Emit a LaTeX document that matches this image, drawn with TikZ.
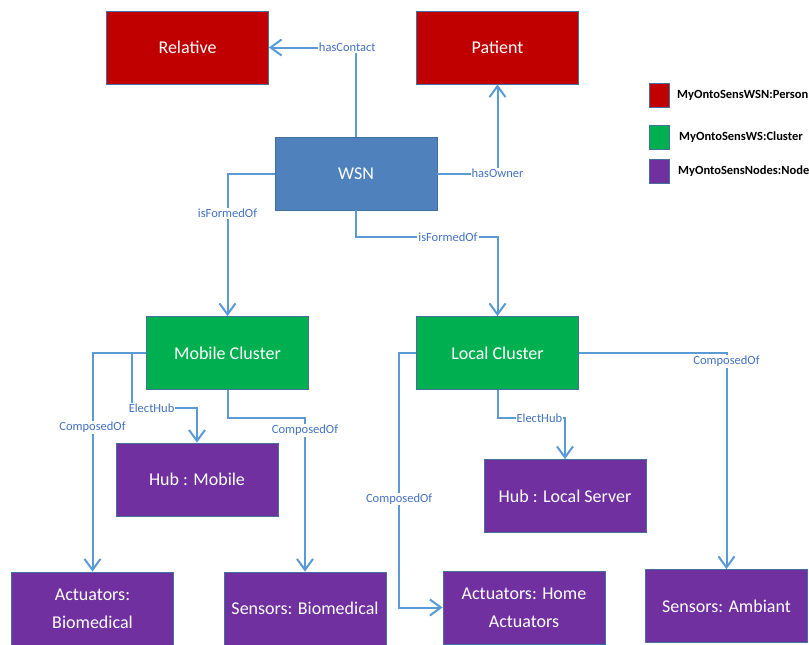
\documentclass[tikz,border=0pt]{standalone}
\usepackage{fontspec}
\setmainfont{Carlito}
\usetikzlibrary{arrows.meta}
\definecolor{lineblue}{RGB}{91,155,213}
\definecolor{labelblue}{RGB}{68,114,196}
\definecolor{pred}{RGB}{192,0,0}
\definecolor{wsnblue}{RGB}{79,129,189}
\definecolor{cgreen}{RGB}{0,176,80}
\definecolor{npurple}{RGB}{112,48,160}
\definecolor{edgeblue}{RGB}{65,113,156}
\begin{document}
\begin{tikzpicture}[x=1pt,y=-1pt,
 box/.style={draw=edgeblue, line width=0.8pt, text=white, font=\fontsize{18}{28}\selectfont, align=center, minimum width=162pt, minimum height=73pt, inner sep=2pt},
 conn/.style={draw=lineblue, line width=2pt, -{Straight Barb[length=11pt,width=16pt,line width=2pt]}},
 lbl/.style={fill=white, text=labelblue, font=\fontsize{12.5}{14}\selectfont, inner sep=1pt},
 leg/.style={draw=edgeblue, line width=0.8pt, minimum width=20pt, minimum height=24pt, inner sep=0pt},
 legtxt/.style={anchor=west, font=\bfseries\fontsize{12.5}{14}\selectfont, inner sep=0pt}]
\useasboundingbox[fill=white] (0,0) rectangle (809,645);

% nodes
\node[box, fill=pred] (rel) at (187.5,47.5) {Relative};
\node[box, fill=pred] (pat) at (497.5,47.5) {Patient};
\node[box, fill=wsnblue] (wsn) at (356,173.5) {WSN};
\node[box, fill=cgreen] (mc) at (227.5,353) {Mobile Cluster};
\node[box, fill=cgreen] (lc) at (497.5,353) {Local Cluster};
\node[box, fill=npurple] (hm) at (197,479.5) {Hub : Mobile};
\node[box, fill=npurple] (hl) at (565,496) {Hub : Local Server};
\node[box, fill=npurple] (ab) at (92.5,608.5) {Actuators:\\Biomedical};
\node[box, fill=npurple] (sb) at (305,608.5) {Sensors: Biomedical};
\node[box, fill=npurple] (ah) at (524,607.5) {Actuators: Home\\Actuators};
\node[box, fill=npurple] (sa) at (726.5,606) {Sensors: Ambiant};

% legend
\node[leg, fill=pred] (l1) at (659,95) {};
\node[leg, fill=cgreen] (l2) at (659,137) {};
\node[leg, fill=npurple] (l3) at (659,171) {};
\node[legtxt] (t1) at (677,95) {MyOntoSensWSN:Person};
\node[legtxt] (t2) at (679,137) {MyOntoSensWS:Cluster};
\node[legtxt] (t3) at (678,171) {MyOntoSensNodes:Node};

% connectors
\draw[conn] (wsn.north) |- node[lbl, pos=0.55] {hasContact} (rel.east);
\draw[conn] (wsn.east) -| node[lbl, pos=0.5] {hasOwner} (pat.south);
\draw[conn] (wsn.west) -| node[lbl, pos=0.64] {isFormedOf} (mc.north);
\draw[conn] (wsn.south) -- ++(0,27) -| node[lbl, pos=0.325] {isFormedOf} (lc.north);
\draw[conn] (mc.west) -| node[lbl, pos=0.67] {ComposedOf} (ab.north);
\draw[conn] ([xshift=-14pt]mc.west) -- ++(0,55) -| node[lbl, pos=0.15] {ElectHub} (hm.north);
\draw[conn] (mc.south) -- ++(0,28) -| node[lbl, pos=0.54] {ComposedOf} (sb.north);
\draw[conn] (lc.west) -- ++(-17,0) |- node[lbl, pos=0.287] {ComposedOf} (ah.west);
\draw[conn] (lc.south) -- ++(0,28) -| node[lbl, pos=0.31] {ElectHub} (hl.north);
\draw[conn] (lc.east) -| node[lbl, pos=0.52] {ComposedOf} (sa.north);
\end{tikzpicture}
\end{document}
